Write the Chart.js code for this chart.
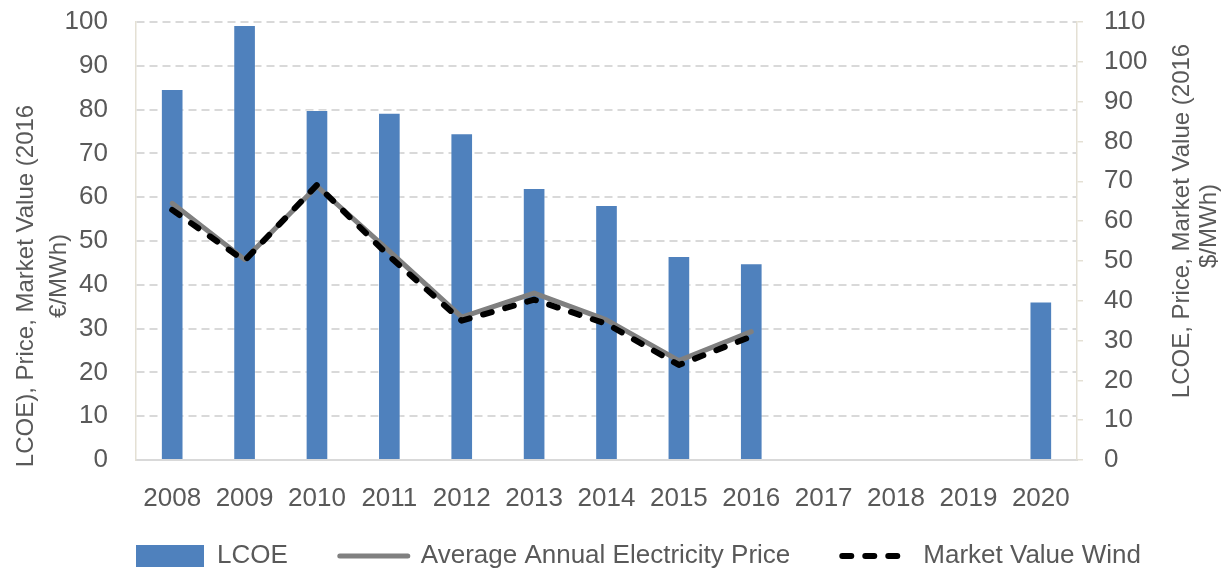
<!DOCTYPE html>
<html>
<head>
<meta charset="utf-8">
<script src="https://cdn.jsdelivr.net/npm/chart.js@4/dist/chart.umd.min.js"></script>
<style>
  html, body { margin: 0; padding: 0; overflow: hidden; background: #fff; }
</style>
</head>
<body>
<canvas id="myChart" width="1227" height="579"></canvas>
<script>
let years = ['2008', '2009', '2010', '2011', '2012', '2013', '2014', '2015', '2016', '2017', '2018', '2019', '2020'];
let lcoe = [84.7, 99.3, 79.9, 79.3, 74.6, 62.1, 58.2, 46.6, 44.9, null, null, null, 36.2];
let avgPrice = [58.6, 45.8, 62.5, 47.7, 32.6, 38.1, 32.0, 22.7, 29.3, null, null, null, null];
let marketWind = [57.1, 45.5, 62.8, 46.5, 31.8, 36.6, 31.1, 21.7, 28.2, null, null, null, null];
let leftTicks = [0, 100, 10];   // min, max, step
let rightTicks = [0, 110, 10];
let leftTitle = ['LCOE), Price, Market Value (2016', '€/MWh)'];
let rightTitle = ['LCOE, Price, Market Value (2016', '$/MWh)'];

let fontName = "'Liberation Sans', Arial, sans-serif";
let textColor = '#595959';

// axis titles are placed by hand, they are not centred on the axis in the original
let axisTitles = {
    id: 'axisTitles',
    afterDraw(chart) {
        let ctx = chart.ctx;
        ctx.save();
        ctx.fillStyle = textColor;
        ctx.font = '24px ' + fontName;
        ctx.textAlign = 'center';
        ctx.textBaseline = 'alphabetic';
        let spots = [
            [leftTitle[0], 33, 286],
            [leftTitle[1], 66, 276],
            [rightTitle[0], 1189, 221],
            [rightTitle[1], 1216, 226]
        ];
        spots.forEach(s => {
            ctx.save();
            ctx.translate(s[1], s[2]);
            ctx.rotate(-Math.PI / 2);
            ctx.fillText(s[0], 0, 0);
            ctx.restore();
        });
        ctx.restore();
    }
};

let ctx = document.getElementById('myChart').getContext('2d');

new Chart(ctx, {
    type: 'bar',
    data: {
        labels: years,
        datasets: [{
            label: 'LCOE',
            data: lcoe,
            backgroundColor: '#4F81BD',
            borderColor: 'rgba(255,255,255,0.35)',
            borderWidth: 1,
            barPercentage: 0.313,
            categoryPercentage: 1,
            yAxisID: 'y',
            order: 3
        },
        {
            type: 'line',
            label: 'Average Annual Electricity Price',
            data: avgPrice,
            borderColor: '#808080',
            borderWidth: 5,
            borderCapStyle: 'round',
            borderJoinStyle: 'round',
            pointRadius: 0,
            fill: false,
            yAxisID: 'y',
            order: 2
        },
        {
            type: 'line',
            label: 'Market Value Wind',
            data: marketWind,
            borderColor: '#000000',
            borderWidth: 6,
            borderDash: [9, 14],
            borderCapStyle: 'round',
            borderJoinStyle: 'round',
            pointRadius: 0,
            fill: false,
            yAxisID: 'y',
            order: 1
        }]
    },
    options: {
        responsive: false,
        animation: false,
        devicePixelRatio: 1,
        layout: { padding: { left: 50, right: 0, top: 22, bottom: 0 } },
        plugins: {
            tooltip: { enabled: false },
            legend: {
                position: 'bottom',
                labels: {
                    usePointStyle: true,
                    pointStyleWidth: 68,
                    boxHeight: 22,
                    padding: 52,
                    color: textColor,
                    font: { family: fontName, size: 26 },
                    generateLabels: function(chart) {
                        return chart.data.datasets.map((ds, i) => {
                            let isBar = i === 0;
                            return {
                                text: ds.label,
                                datasetIndex: i,
                                hidden: !chart.isDatasetVisible(i),
                                fontColor: textColor,
                                pointStyle: isBar ? 'rect' : 'line',
                                fillStyle: ds.backgroundColor || ds.borderColor,
                                strokeStyle: ds.borderColor,
                                lineWidth: isBar ? 0 : ds.borderWidth,
                                lineDash: ds.borderDash || [],
                                lineCap: isBar ? 'butt' : 'round'
                            };
                        });
                    }
                }
            }
        },
        scales: {
            x: {
                grid: { display: false },
                border: { display: true, color: '#d9d9d9', width: 2 },
                // mirror keeps the labels from being clipped to the short axis box
                ticks: { color: textColor, mirror: true, padding: -54, autoSkip: false, maxRotation: 0, font: { family: fontName, size: 26 } },
                afterFit: s => { s.height = 31; }
            },
            y: {
                position: 'left',
                min: leftTicks[0],
                max: leftTicks[1],
                // label gap comes from an invisible tick mark so the plot top is not pushed down
                ticks: { stepSize: leftTicks[2], autoSkip: false, color: textColor, padding: 0, font: { family: fontName, size: 26 } },
                grid: {
                    drawTicks: true,
                    tickLength: 28,
                    tickColor: 'rgba(0,0,0,0)',
                    lineWidth: 2,
                    color: c => c.tick && c.tick.value === 0 ? 'rgba(0,0,0,0)' : '#d9d9d9'
                },
                border: { display: true, color: '#e4e0d4', width: 1.5, dash: [8, 5] },
                afterFit: s => { s.width = 86; }
            },
            y1: {
                position: 'right',
                min: rightTicks[0],
                max: rightTicks[1],
                ticks: { stepSize: rightTicks[2], autoSkip: false, color: textColor, padding: 21, font: { family: fontName, size: 26, lineHeight: 0.05 } },
                grid: { drawOnChartArea: false, drawTicks: true, tickLength: 6, tickColor: '#e4e0d4', lineWidth: 1.5 },
                border: { display: true, color: '#e4e0d4', width: 1.5 },
                afterFit: s => { s.width = 150; }
            }
        }
    },
    plugins: [axisTitles]
});
</script>
</body>
</html>
